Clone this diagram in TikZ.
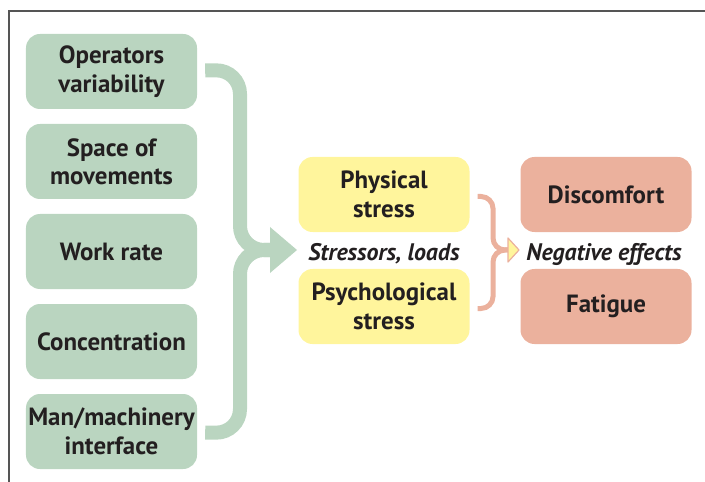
\documentclass[tikz,border=0pt]{standalone}
\usepackage{fontspec}
\setmainfont{PT Sans}
\usetikzlibrary{calc}
\definecolor{gbox}{HTML}{BAD5C0}
\definecolor{ybox}{HTML}{FFF59C}
\definecolor{pbox}{HTML}{EBB19D}
\definecolor{txt}{HTML}{231F20}
\definecolor{frame}{HTML}{555555}
\begin{document}
\begin{tikzpicture}[x=1bp,y=-1bp,
  box/.style={rounded corners=14bp, minimum width=171bp, minimum height=75bp,
    align=center, inner sep=0pt, text=txt, font=\fontsize{25}{28.5}\selectfont\bfseries},
  gnode/.style={box, fill=gbox},
  ynode/.style={box, fill=ybox},
  pnode/.style={box, fill=pbox},
  lbl/.style={text=txt, font=\fontsize{24}{26}\selectfont\bfseries\itshape, inner sep=0pt},
  gbrace/.style={draw=gbox, line width=14bp, rounded corners=24bp},
  pbrace/.style={draw=pbox, line width=5bp, rounded corners=12bp}]
\useasboundingbox (0,0) rectangle (705,482);
\draw[frame, line width=1.3bp] (9,482) -- (9,11) -- (705,11);
% left column
\node[gnode] (g1) at (111.5,71.5) {Operators\\variability};
\node[gnode] (g2) at (111.5,161.5) {Space of\\movements};
\node[gnode] (g3) at (111.5,251.5) {Work rate};
\node[gnode] (g4) at (111.5,341.5) {Concentration};
\node[gnode] (g5) at (111.5,431.5) {Man/machinery\\interface};
% middle
\node[ynode] (y1) at (384,194.5) {Physical\\stress};
\node[ynode] (y2) at (384,306.5) {Psychological\\stress};
\node[lbl] (sl) at (384,253.5) {Stressors, loads};
% right
\node[pnode] (p1) at (606,194.5) {Discomfort};
\node[pnode] (p2) at (606,306.5) {Fatigue};
\node[lbl] (ne) at (604,254.5) {Negative effects};
% green brace
\coordinate (gs1) at ($(g1.east)+(8,-1)$);
\coordinate (gs2) at ($(g5.east)+(8,1)$);
\coordinate (gm) at (274,250);
\draw[gbrace] (gs1) -- (240,70) -- (240,250) -- (gm);
\draw[gbrace] (gs2) -- (240,433) -- (240,250) -- (gm);
\fill[gbox] (270,227) -- (297,250) -- (270,273) -- cycle;
% pink brace
\coordinate (ps1) at ($(y1.east)+(8,2)$);
\coordinate (ps2) at ($(y2.east)+(8,2)$);
\coordinate (pm) at (509,250);
\draw[pbrace] (ps1) -- (493,196.5) -- (493,250) -- (pm);
\draw[pbrace] (ps2) -- (493,308.5) -- (493,250) -- (pm);
\filldraw[fill=ybox, draw=pbox, line width=1.2bp, line join=round] (508,238) -- (519,250) -- (508,262) -- cycle;
\end{tikzpicture}
\end{document}
